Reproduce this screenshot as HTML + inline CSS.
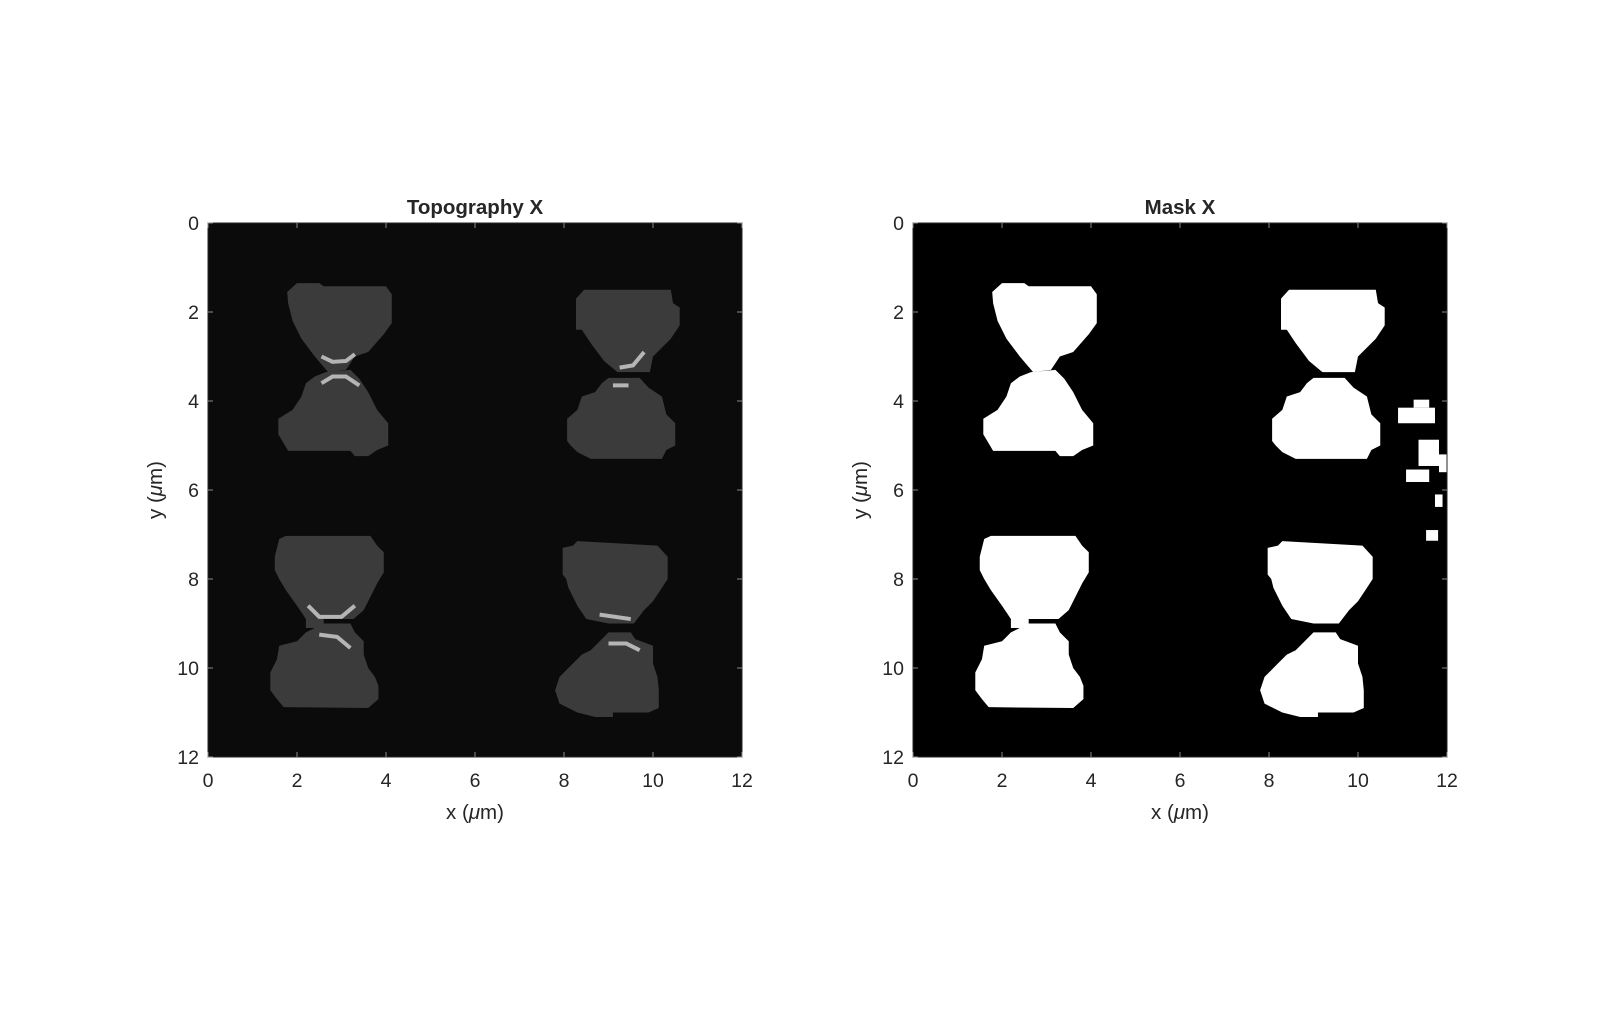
<!DOCTYPE html>
<html><head><meta charset="utf-8"><style>
body{margin:0;background:#fff;width:1600px;height:1017px;overflow:hidden;font-family:"Liberation Sans",Arial,sans-serif}
svg text{font-family:"Liberation Sans",Arial,sans-serif;fill:#262626}
</style></head><body>
<svg id="fig" width="1600" height="1017" viewBox="0 0 1600 1017"></svg>
<script>
const xTicks=[0,2,4,6,8,10,12];
const yTicks=[0,2,4,6,8,10,12];
const blobTLtop=[[1.78,1.55],[2.0,1.35],[2.5,1.35],[2.6,1.42],[4.0,1.42],[4.13,1.6],[4.13,2.25],[3.95,2.5],[3.6,2.9],[3.3,3.0],[3.1,3.3],[2.7,3.35],[2.4,3.0],[2.1,2.6],[1.9,2.2],[1.8,1.8]];
const blobTLbot=[[2.65,3.35],[3.2,3.3],[3.4,3.5],[3.6,3.8],[3.8,4.2],[4.05,4.5],[4.05,5.0],[3.8,5.1],[3.6,5.24],[3.3,5.24],[3.2,5.12],[1.8,5.12],[1.7,4.95],[1.58,4.75],[1.58,4.4],[1.9,4.2],[2.1,3.9],[2.2,3.6],[2.4,3.45]];
const blobTRtop=[[8.27,1.7],[8.45,1.5],[10.4,1.5],[10.45,1.8],[10.6,1.9],[10.6,2.3],[10.4,2.6],[10.2,2.8],[10.0,3.0],[9.93,3.35],[9.2,3.35],[8.9,3.1],[8.6,2.7],[8.4,2.4],[8.27,2.4]];
const blobTRbot=[[8.85,3.6],[9.0,3.48],[9.7,3.48],[9.9,3.7],[10.2,3.9],[10.3,4.3],[10.5,4.5],[10.5,5.0],[10.3,5.1],[10.2,5.3],[8.6,5.3],[8.3,5.15],[8.15,5.0],[8.07,4.9],[8.07,4.4],[8.3,4.2],[8.4,3.9],[8.7,3.8]];
const blobBLtop=[[1.5,7.5],[1.6,7.1],[1.75,7.03],[3.65,7.03],[3.8,7.25],[3.95,7.4],[3.95,7.85],[3.8,8.1],[3.6,8.5],[3.5,8.7],[3.27,8.9],[2.6,8.9],[2.6,9.1],[2.2,9.1],[2.2,8.9],[2.0,8.6],[1.75,8.25],[1.6,8.0],[1.5,7.8]];
const blobBLbot=[[2.2,9.2],[2.6,9.0],[3.2,9.0],[3.3,9.2],[3.5,9.4],[3.5,9.7],[3.6,10.0],[3.75,10.2],[3.83,10.4],[3.83,10.7],[3.6,10.9],[1.7,10.88],[1.55,10.7],[1.4,10.5],[1.4,10.1],[1.55,9.8],[1.6,9.5],[2.0,9.4],[2.1,9.3]];
const blobBRtop=[[7.97,7.3],[8.2,7.25],[8.3,7.15],[10.1,7.25],[10.33,7.5],[10.33,8.0],[10.2,8.2],[10.0,8.5],[9.8,8.7],[9.57,9.0],[9.0,9.0],[8.5,8.9],[8.3,8.6],[8.1,8.2],[8.05,8.0],[7.97,7.9]];
const blobBRbot=[[8.6,9.6],[8.9,9.3],[9.0,9.2],[9.5,9.2],[9.6,9.35],[10.0,9.5],[10.0,9.9],[10.1,10.2],[10.13,10.5],[10.13,10.9],[9.9,11.0],[9.1,11.0],[9.1,11.1],[8.7,11.1],[8.3,11.0],[7.9,10.8],[7.8,10.5],[7.9,10.2],[8.2,9.9],[8.4,9.7]];
const maskSpots=[[10.9,4.15,11.73,4.5],[11.25,3.97,11.6,4.15],[11.36,4.87,11.82,5.46],[11.82,5.2,12,5.6],[11.08,5.54,11.6,5.82],[11.73,6.1,11.9,6.38],[11.53,6.9,11.8,7.14]];
const brightArcs=[[[2.55,3.0],[2.8,3.12],[3.1,3.1],[3.3,2.95]],[[2.55,3.6],[2.8,3.45],[3.1,3.45],[3.4,3.65]],[[9.25,3.25],[9.55,3.2],[9.8,2.9]],[[9.1,3.65],[9.45,3.65]],[[2.25,8.6],[2.5,8.85],[3.0,8.85],[3.3,8.6]],[[2.5,9.25],[2.9,9.3],[3.2,9.55]],[[8.8,8.8],[9.5,8.9]],[[9.0,9.45],[9.4,9.45],[9.7,9.6]]];
const blobs=[blobTLtop,blobTLbot,blobTRtop,blobTRbot,blobBLtop,blobBLbot,blobBRtop,blobBRbot];
const blobNames=['pad-tl-top','pad-tl-bottom','pad-tr-top','pad-tr-bottom','pad-bl-top','pad-bl-bottom','pad-br-top','pad-br-bottom'];

const NS='http://www.w3.org/2000/svg';
const fig=document.getElementById('fig');
function mk(tag,attrs,parent){const e=document.createElementNS(NS,tag);for(const k in attrs)e.setAttribute(k,attrs[k]);(parent||fig).appendChild(e);return e;}
function makeAxes(x0,y0,w,h){return {sx:v=>x0+v/12*w,sy:v=>y0+v/12*h,x0,y0,w,h};}

function drawPanel(ax,title,kind){
  const g=mk('g',{});
  
  
  const bg=mk('rect',{x:ax.x0,y:ax.y0,width:ax.w,height:ax.h,fill:kind==='mask'?'#000':'#0b0b0b'},g);
  
  
  blobs.forEach((b,i)=>{
    const p=mk('polygon',{points:b.map(q=>ax.sx(q[0])+','+ax.sy(q[1])).join(' '),fill:kind==='mask'?'#fff':'#3b3b3b'},g);
    
    
  });
  if(kind==='mask'){
    maskSpots.forEach(s=>{
      const r=mk('rect',{x:ax.sx(s[0]),y:ax.sy(s[1]),width:ax.sx(s[2])-ax.sx(s[0]),height:ax.sy(s[3])-ax.sy(s[1]),fill:'#fff'},g);
      
      
    });
  } else {
    brightArcs.forEach(a=>{
      const l=mk('polyline',{points:a.map(q=>ax.sx(q[0])+','+ax.sy(q[1])).join(' '),fill:'none',stroke:'#b5b5b5','stroke-width':4},g);
      
      
    });
  }
  const box=mk('rect',{x:ax.x0,y:ax.y0,width:ax.w,height:ax.h,fill:'none',stroke:'#262626','stroke-width':1},g);
  
  
  xTicks.forEach(t=>{
    const X=ax.sx(t);
    mk('line',{x1:X,y1:ax.y0+ax.h,x2:X,y2:ax.y0+ax.h-5,stroke:'#888'},g);
    mk('line',{x1:X,y1:ax.y0,x2:X,y2:ax.y0+5,stroke:'#888'},g);
    const tx=mk('text',{x:X,y:ax.y0+ax.h+30,'font-size':19.5,'text-anchor':'middle'},g);
    tx.textContent=t;
    
    
  });
  yTicks.forEach(t=>{
    const Y=ax.sy(t);
    mk('line',{x1:ax.x0,y1:Y,x2:ax.x0+5,y2:Y,stroke:'#888'},g);
    mk('line',{x1:ax.x0+ax.w,y1:Y,x2:ax.x0+ax.w-5,y2:Y,stroke:'#888'},g);
    const ty=mk('text',{x:ax.x0-9,y:Y+7,'font-size':19.5,'text-anchor':'end'},g);
    ty.textContent=t;
    
    
  });
  const tt=mk('text',{x:ax.x0+ax.w/2,y:ax.y0-9,'font-size':20.5,'font-weight':'bold','text-anchor':'middle',fill:'#000'},g);
  tt.textContent=title;
  
  
  const xl=mk('text',{x:ax.x0+ax.w/2,y:ax.y0+ax.h+62,'font-size':20.5,'text-anchor':'middle'},g);
  xl.innerHTML='x (<tspan font-style="italic">μ</tspan>m)';
  
  
  const cy=ax.y0+ax.h/2;
  const yl=mk('text',{x:ax.x0-46,y:cy,'font-size':20.5,'text-anchor':'middle',transform:'rotate(-90 '+(ax.x0-46)+' '+cy+')'},g);
  yl.innerHTML='y (<tspan font-style="italic">μ</tspan>m)';
  
  
}
drawPanel(makeAxes(208,223,534,534),'Topography X','topography');
drawPanel(makeAxes(913,223,534,534),'Mask X','mask');
</script>
</body></html>
